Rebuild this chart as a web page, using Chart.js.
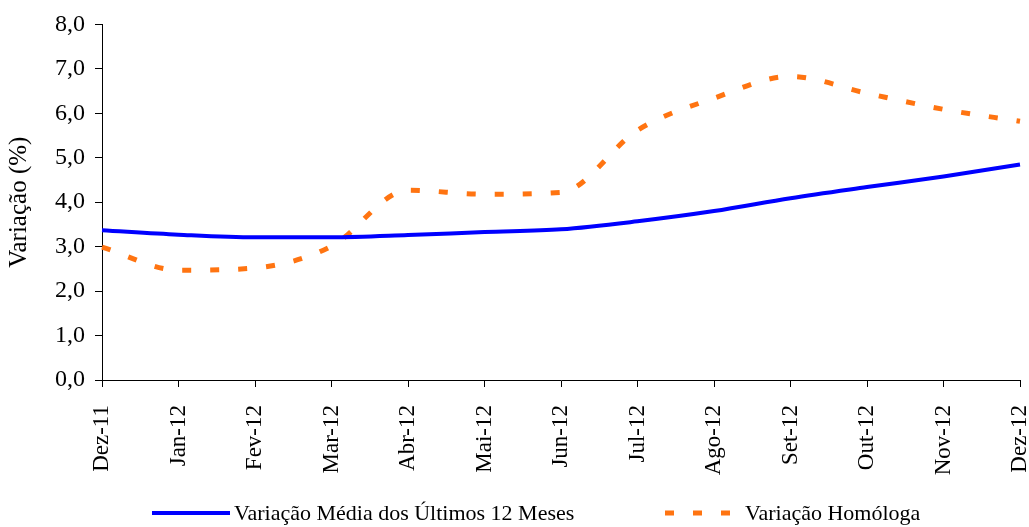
<!DOCTYPE html>
<html>
<head>
<meta charset="utf-8">
<script src="https://cdn.jsdelivr.net/npm/chart.js@4.4.0/dist/chart.umd.min.js"></script>
<style>
    html, body { margin: 0; padding: 0; background: #fff; }
    #wrap { width: 1029px; height: 527px; }
</style>
</head>
<body>
<div id="wrap"><canvas id="lineChart"></canvas></div>
<script>
const months = ['Dez-11', 'Jan-12', 'Fev-12', 'Mar-12', 'Abr-12', 'Mai-12', 'Jun-12',
    'Jul-12', 'Ago-12', 'Set-12', 'Out-12', 'Nov-12', 'Dez-12'];
const mediaValues = [3.37, 3.27, 3.21, 3.21, 3.26, 3.33, 3.39, 3.57, 3.80, 4.09, 4.34, 4.58, 4.85];
const homologaValues = [2.99, 2.47, 2.52, 3.01, 4.27, 4.18, 4.22, 5.62, 6.34, 6.83, 6.45, 6.09, 5.82];
const seriesNames = ['Variação Média dos Últimos 12 Meses', 'Variação Homóloga'];

const serif = 'Liberation Serif, Times New Roman, serif';

// legend drawn by hand so the two items sit far apart like the original
const bottomLegend = {
    id: 'bottomLegend',
    afterDraw(chart) {
        const ctx = chart.ctx;
        const y = 513;
        const items = [
            { x1: 152, x2: 230, text: 234, ds: chart.data.datasets[0] },
            { x1: 665, x2: 734, text: 745, ds: chart.data.datasets[1] }
        ];
        ctx.save();
        items.forEach(it => {
            ctx.beginPath();
            ctx.strokeStyle = it.ds.borderColor;
            ctx.lineWidth = it.ds.borderWidth;
            ctx.setLineDash(it.ds.borderDash || []);
            ctx.moveTo(it.x1, y);
            ctx.lineTo(it.x2, y);
            ctx.stroke();
            ctx.setLineDash([]);
            ctx.fillStyle = '#000';
            ctx.font = '22px ' + serif;
            ctx.textBaseline = 'middle';
            ctx.fillText(it.ds.label, it.text, y + 1);
        });
        ctx.restore();
    }
};

const config = {
    type: 'line',
    data: {
        labels: months,
        datasets: [{
            label: seriesNames[0],
            data: mediaValues,
            borderColor: '#0000ff',
            borderWidth: 4,
            pointRadius: 0,
            cubicInterpolationMode: 'monotone',
            fill: false
        }, {
            label: seriesNames[1],
            data: homologaValues,
            borderColor: '#ff7411',
            borderWidth: 5,
            borderDash: [9, 19],
            pointRadius: 0,
            cubicInterpolationMode: 'monotone',
            fill: false
        }]
    },
    options: {
        responsive: true,
        maintainAspectRatio: false,
        animation: false,
        layout: {
            padding: { left: 0, right: 9, top: 24, bottom: 40 }
        },
        plugins: {
            legend: { display: false },
            tooltip: { enabled: false }
        },
        scales: {
            x: {
                offset: false,
                afterFit: (scale) => {
                    scale.height = 107;
                    scale.paddingLeft = 0;
                    scale.paddingRight = 0;
                },
                grid: {
                    drawOnChartArea: false,
                    drawTicks: true,
                    tickLength: 7,
                    tickColor: '#000'
                },
                border: { color: '#000', width: 1 },
                ticks: {
                    color: '#000',
                    font: { family: serif, size: 23 },
                    minRotation: 90,
                    maxRotation: 90,
                    autoSkip: false,
                    padding: 18
                }
            },
            y: {
                min: 0,
                max: 8,
                afterFit: (scale) => { scale.width = 102; },
                grid: {
                    drawOnChartArea: false,
                    drawTicks: true,
                    tickLength: 7,
                    tickColor: '#000'
                },
                border: { color: '#000', width: 1 },
                ticks: {
                    stepSize: 1,
                    color: '#000',
                    font: { family: serif, size: 24 },
                    padding: 10,
                    callback: (value) => value.toFixed(1).replace('.', ',')
                },
                title: {
                    display: true,
                    text: 'Variação (%)',
                    color: '#000',
                    font: { family: serif, size: 25 },
                    padding: { top: 4, bottom: 0 }
                }
            }
        }
    },
    plugins: [bottomLegend]
};

window.onload = function () {
    const ctx = document.getElementById('lineChart').getContext('2d');
    new Chart(ctx, config);
};
</script>
</body>
</html>
